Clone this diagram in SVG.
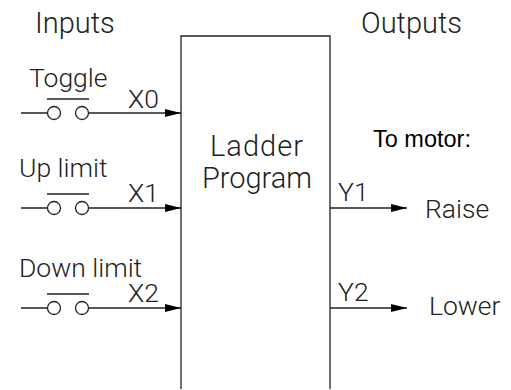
<svg xmlns="http://www.w3.org/2000/svg" width="511" height="390" viewBox="0 0 511 390">
<defs>
<marker id="arr" markerUnits="userSpaceOnUse" markerWidth="16" markerHeight="10" refX="16" refY="4.5" orient="auto"><path d="M0 0.5L16 4.5L0 8.5Z" fill="#000"/></marker>
<g id="sw"><path class="w" d="M21 0H47M89 0H116"/><path class="w" d="M47-14H89"/><circle class="w" cx="54" cy="0" r="6.5"/><circle class="w" cx="82" cy="0" r="6.5"/></g>
</defs>
<style>
text{font-family:Roboto,"Liberation Sans",Arial,sans-serif;font-weight:300;fill:#222;font-size:26.5px}
.big{font-size:29px}
.w{fill:none;stroke:#222;stroke-width:1.3}
.b{fill:#fff;stroke:#222;stroke-width:1.3}
.c{fill:none;stroke:#222;stroke-width:1.3}
</style>
<rect width="511" height="390" fill="#fff"/>
<g id="ladder"><path class="b" d="M181 389V36H330V389"/><text class="big" x="257" y="156" text-anchor="middle" letter-spacing="1">Ladder</text><text class="big" x="257" y="188" text-anchor="middle">Program</text></g>
<g id="connectors">
<path class="c" d="M116 113H181" marker-end="url(#arr)"/>
<path class="c" d="M116 208H181" marker-end="url(#arr)"/>
<path class="c" d="M116 308H181" marker-end="url(#arr)"/>
<path class="c" d="M330 208H407" marker-end="url(#arr)"/>
<path class="c" d="M330 308H407" marker-end="url(#arr)"/>
</g>
<text class="big" x="35" y="33">Inputs</text>
<text class="big" x="361" y="33">Outputs</text>
<g id="toggle"><use href="#sw" y="113"/><text x="29" y="87">Toggle</text><text x="128" y="108">X0</text></g>
<g id="up"><use href="#sw" y="208"/><text x="19" y="177">Up limit</text><text x="128" y="202">X1</text></g>
<g id="down"><use href="#sw" y="308"/><text x="19" y="277">Down limit</text><text x="128" y="302">X2</text></g>
<g id="raise"><text x="338" y="201">Y1</text><text x="425" y="218">Raise</text></g>
<g id="lower"><text x="338" y="301">Y2</text><text x="429" y="315">Lower</text></g>
<text x="373" y="147" style="font-family:'Liberation Sans',Arial,sans-serif;font-size:23.5px;font-weight:400;fill:#000">To motor:</text>
</svg>
